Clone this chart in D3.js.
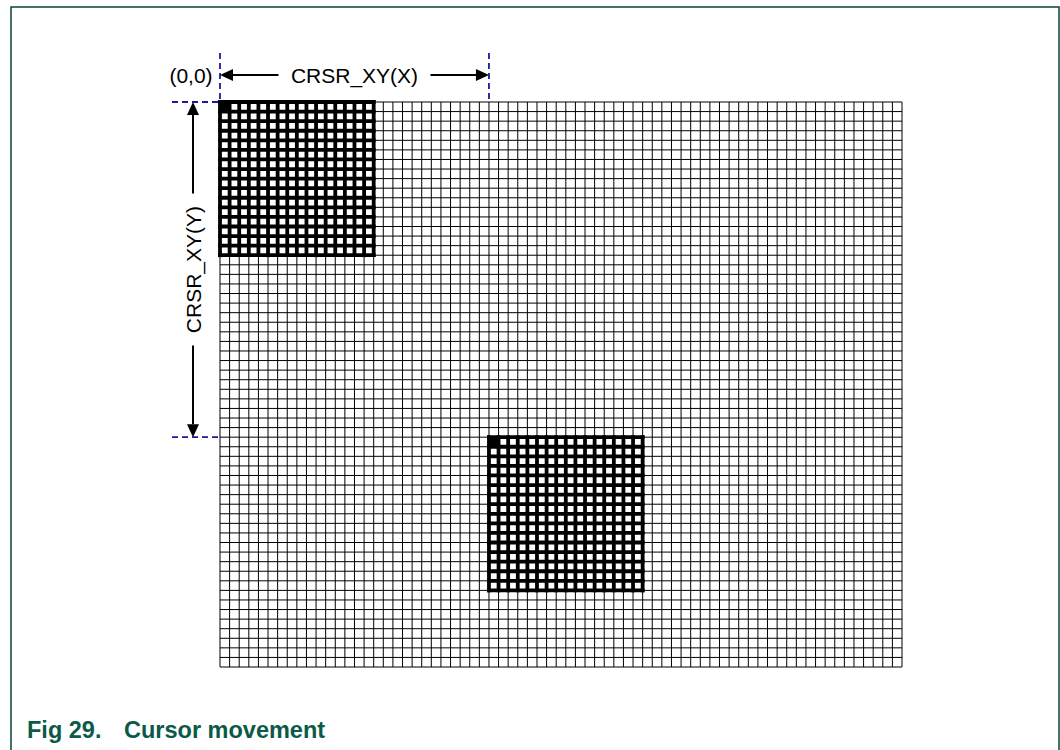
<!DOCTYPE html>
<html>
<head>
<meta charset="utf-8">
<script src="https://cdn.jsdelivr.net/npm/d3@7"></script>
<style>
    body { margin: 0; background: #fff; }
    text { font-family: Arial, "Liberation Sans", sans-serif; }
</style>
</head>
<body>
<div id="vis"></div>
<script>
var width = 1060;
var height = 750;

// screen grid (in pixels of the display)
var gridCols = 71;
var gridRows = 59;

// cursor image is 16 x 16 pixels, drawn at two positions
var cursorSize = 16;
var cursorCols = [0, 28];
var cursorRows = [0, 35];

var originLabel = "(0,0)";
var labelX = "CRSR_XY(X)";
var labelY = "CRSR_XY(Y)";
var captionNum = "Fig 29.";
var captionText = "Cursor movement";

var x = d3.scaleLinear().domain([0, gridCols]).range([220, 902]);
var y = d3.scaleLinear().domain([0, gridRows]).range([102, 667]);

var svg = d3.select('#vis')
    .append('svg')
    .attr('width', width)
    .attr('height', height);

// outer frame
svg.append('path')
    .attr('d', 'M11,' + height + 'V7H1059V' + height)
    .attr('fill', 'none')
    .attr('stroke', '#0b4536')
    .attr('stroke-width', 1.5);

// thin display grid
var grid = svg.append('g');
grid.selectAll('line.v')
    .data(d3.range(gridCols + 1))
    .enter().append('line')
    .attr('class', 'v')
    .attr('x1', function (d) { return x(d); })
    .attr('x2', function (d) { return x(d); })
    .attr('y1', y(0))
    .attr('y2', y(gridRows))
    .attr('stroke', '#000')
    .attr('stroke-width', 1);
grid.selectAll('line.h')
    .data(d3.range(gridRows + 1))
    .enter().append('line')
    .attr('class', 'h')
    .attr('x1', x(0))
    .attr('x2', x(gridCols))
    .attr('y1', function (d) { return y(d); })
    .attr('y2', function (d) { return y(d); })
    .attr('stroke', '#000')
    .attr('stroke-width', 1);

// cursors
cursorCols.forEach(function (col, k) {
    var row = cursorRows[k];
    var g = svg.append('g');
    // first pixel of the cursor is filled
    g.append('rect')
        .attr('x', x(col))
        .attr('y', y(row))
        .attr('width', x(col + 1) - x(col))
        .attr('height', y(row + 1) - y(row))
        .attr('fill', '#000');
    g.selectAll('line.cv')
        .data(d3.range(cursorSize + 1))
        .enter().append('line')
        .attr('x1', function (d) { return x(col + d); })
        .attr('x2', function (d) { return x(col + d); })
        .attr('y1', y(row))
        .attr('y2', y(row + cursorSize))
        .attr('stroke', '#000')
        .attr('stroke-width', 3.8)
        .attr('stroke-linecap', 'square');
    g.selectAll('line.ch')
        .data(d3.range(cursorSize + 1))
        .enter().append('line')
        .attr('x1', x(col))
        .attr('x2', x(col + cursorSize))
        .attr('y1', function (d) { return y(row + d); })
        .attr('y2', function (d) { return y(row + d); })
        .attr('stroke', '#000')
        .attr('stroke-width', 3.8)
        .attr('stroke-linecap', 'square');
});

// dashed guide lines
var guideColor = '#1a1a9c';
var guides = [
    [x(cursorCols[0]), 53, x(cursorCols[0]), y(0)],
    [x(cursorCols[1]), 53, x(cursorCols[1]), y(0)],
    [172, y(cursorRows[0]), x(0), y(cursorRows[0])],
    [172, y(cursorRows[1]), x(0), y(cursorRows[1])]
];
svg.selectAll('line.guide')
    .data(guides)
    .enter().append('line')
    .attr('class', 'guide')
    .attr('x1', function (d) { return d[0]; })
    .attr('y1', function (d) { return d[1]; })
    .attr('x2', function (d) { return d[2]; })
    .attr('y2', function (d) { return d[3]; })
    .attr('stroke', guideColor)
    .attr('stroke-width', 1.8)
    .attr('stroke-dasharray', '6,4');

// arrow helper: line from (x1,y1) to tip (x2,y2)
function arrow(x1, y1, x2, y2) {
    var ang = Math.atan2(y2 - y1, x2 - x1);
    var len = 13, half = 6;
    var bx = x2 - len * Math.cos(ang), by = y2 - len * Math.sin(ang);
    svg.append('line')
        .attr('x1', x1).attr('y1', y1)
        .attr('x2', bx).attr('y2', by)
        .attr('stroke', '#000')
        .attr('stroke-width', 2);
    svg.append('path')
        .attr('d', 'M' + x2 + ',' + y2 +
            'L' + (bx - half * Math.sin(ang)) + ',' + (by + half * Math.cos(ang)) +
            'L' + (bx + half * Math.sin(ang)) + ',' + (by - half * Math.cos(ang)) + 'Z')
        .attr('fill', '#000');
}

var fontSize = 21;
var gap = 76;

// X dimension
var arrowY = 75;
var midX = (x(cursorCols[0]) + x(cursorCols[1])) / 2;
arrow(midX - gap, arrowY, x(cursorCols[0]), arrowY);
arrow(midX + gap, arrowY, x(cursorCols[1]), arrowY);
svg.append('text')
    .attr('x', midX)
    .attr('y', arrowY)
    .attr('dy', '0.36em')
    .attr('text-anchor', 'middle')
    .style('font-size', fontSize + 'px')
    .text(labelX);
svg.append('text')
    .attr('x', 191)
    .attr('y', arrowY)
    .attr('dy', '0.36em')
    .attr('text-anchor', 'middle')
    .style('font-size', fontSize + 'px')
    .text(originLabel);

// Y dimension
var arrowX = 193;
var midY = (y(cursorRows[0]) + y(cursorRows[1])) / 2;
arrow(arrowX, midY - gap, arrowX, y(cursorRows[0]));
arrow(arrowX, midY + gap, arrowX, y(cursorRows[1]));
svg.append('text')
    .attr('transform', 'translate(' + arrowX + ',' + midY + ') rotate(-90)')
    .attr('dy', '0.36em')
    .attr('text-anchor', 'middle')
    .style('font-size', fontSize + 'px')
    .text(labelY);

// caption
var captionColor = '#0b5a48';
svg.append('text')
    .attr('x', 27)
    .attr('y', 738)
    .attr('fill', captionColor)
    .style('font-size', '23.5px')
    .style('font-weight', 'bold')
    .text(captionNum);
svg.append('text')
    .attr('x', 124)
    .attr('y', 738)
    .attr('fill', captionColor)
    .style('font-size', '23.5px')
    .style('font-weight', 'bold')
    .text(captionText);
</script>
</body>
</html>
